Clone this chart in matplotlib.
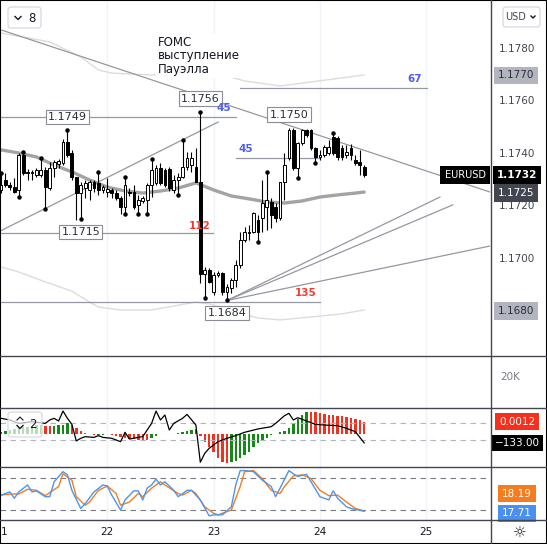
import matplotlib
matplotlib.use('Agg')
import matplotlib.pyplot as plt
from matplotlib.lines import Line2D
from matplotlib.patches import Rectangle, FancyBboxPatch
from matplotlib import transforms

W, H = 547, 544

# EURUSD hourly candles, hour index from 21 Sep 00:00
opens = [1.17262, 1.17300, 1.17281, 1.17273, 1.17262, 1.17395, 1.17331, 1.17327, 1.17319, 1.17319,
         1.17338, 1.17269, 1.17346, 1.17361, 1.17365, 1.17445, 1.17403, 1.17311, 1.17250, 1.17269,
         1.17262, 1.17292, 1.17289, 1.17262, 1.17254, 1.17262, 1.17250, 1.17231, 1.17197, 1.17254,
         1.17254, 1.17205, 1.17220, 1.17224, 1.17281, 1.17289, 1.17346, 1.17338, 1.17342, 1.17262,
         1.17300, 1.17311, 1.17350, 1.17357, 1.17350, 1.17292, 1.16941, 1.16956, 1.16873, 1.16937,
         1.16945, 1.16873, 1.16888, 1.16918, 1.16976, 1.17071, 1.17098, 1.17102, 1.17147, 1.17155,
         1.17197, 1.17216, 1.17197, 1.17155, 1.17292, 1.17384, 1.17491, 1.17346, 1.17441, 1.17491,
         1.17491, 1.17422, 1.17388, 1.17395, 1.17403, 1.17464, 1.17460, 1.17422, 1.17395, 1.17422,
         1.17376, 1.17369, 1.17350]
highs = [1.17327, 1.17327, 1.17292, 1.17308, 1.17403, 1.17407, 1.17342, 1.17338, 1.17346, 1.17384,
         1.17350, 1.17369, 1.17376, 1.17380, 1.17457, 1.17491, 1.17415, 1.17311, 1.17292, 1.17300,
         1.17300, 1.17300, 1.17331, 1.17281, 1.17308, 1.17269, 1.17262, 1.17239, 1.17311, 1.17269,
         1.17281, 1.17243, 1.17239, 1.17289, 1.17380, 1.17357, 1.17365, 1.17346, 1.17350, 1.17319,
         1.17327, 1.17453, 1.17407, 1.17407, 1.17422, 1.17560, 1.16968, 1.16964, 1.16949, 1.16953,
         1.16949, 1.16903, 1.16926, 1.16995, 1.17102, 1.17121, 1.17128, 1.17178, 1.17166, 1.17300,
         1.17331, 1.17231, 1.17212, 1.17292, 1.17403, 1.17499, 1.17499, 1.17445, 1.17495, 1.17495,
         1.17495, 1.17426, 1.17415, 1.17434, 1.17453, 1.17479, 1.17468, 1.17434, 1.17434, 1.17437,
         1.17395, 1.17415, 1.17357]
lows = [1.17250, 1.17273, 1.17262, 1.17250, 1.17235, 1.17319, 1.17300, 1.17300, 1.17311, 1.17311,
        1.17189, 1.17262, 1.17311, 1.17346, 1.17357, 1.17388, 1.17300, 1.17147, 1.17151, 1.17231,
        1.17224, 1.17254, 1.17243, 1.17250, 1.17235, 1.17231, 1.17224, 1.17170, 1.17170, 1.17239,
        1.17189, 1.17170, 1.17212, 1.17170, 1.17235, 1.17281, 1.17281, 1.17273, 1.17258, 1.17250,
        1.17243, 1.17308, 1.17338, 1.17331, 1.17292, 1.16907, 1.16850, 1.16907, 1.16861, 1.16930,
        1.16861, 1.16842, 1.16869, 1.16892, 1.16964, 1.17063, 1.17071, 1.17098, 1.17063, 1.17102,
        1.17109, 1.17117, 1.17140, 1.17147, 1.17224, 1.17376, 1.17338, 1.17308, 1.17434, 1.17464,
        1.17415, 1.17365, 1.17376, 1.17388, 1.17395, 1.17395, 1.17376, 1.17376, 1.17384, 1.17376,
        1.17357, 1.17319, 1.17311]
closes = [1.17281, 1.17281, 1.17273, 1.17254, 1.17395, 1.17327, 1.17327, 1.17331, 1.17338, 1.17338,
          1.17273, 1.17346, 1.17369, 1.17373, 1.17445, 1.17395, 1.17311, 1.17250, 1.17281, 1.17289,
          1.17292, 1.17269, 1.17262, 1.17273, 1.17266, 1.17250, 1.17231, 1.17197, 1.17281, 1.17250,
          1.17197, 1.17224, 1.17231, 1.17281, 1.17338, 1.17346, 1.17289, 1.17281, 1.17269, 1.17300,
          1.17311, 1.17350, 1.17384, 1.17384, 1.17292, 1.16941, 1.16956, 1.16911, 1.16937, 1.16945,
          1.16873, 1.16892, 1.16918, 1.16976, 1.17071, 1.17102, 1.17102, 1.17174, 1.17102, 1.17212,
          1.17224, 1.17166, 1.17155, 1.17292, 1.17357, 1.17491, 1.17346, 1.17441, 1.17491, 1.17472,
          1.17422, 1.17388, 1.17395, 1.17426, 1.17426, 1.17403, 1.17388, 1.17388, 1.17407, 1.17395,
          1.17365, 1.17357, 1.17319]
hours = list(range(len(opens)))

# fractal dots
dot_highs = [0, 5, 9, 15, 22, 28, 34, 41, 45, 60, 75]
dot_lows = [4, 10, 18, 28, 31, 33, 40, 46, 51, 58, 67, 71]

# moving average (thick grey)
ma_h = [0, 4, 8, 12, 16, 20, 24, 28, 32, 36, 40, 44, 48, 52, 56, 60, 64, 68, 72, 76, 80, 82]
ma = [1.17415, 1.17403, 1.17388, 1.17357, 1.17331, 1.17300, 1.17273, 1.17258, 1.17250, 1.17258,
      1.17269, 1.17289, 1.17262, 1.17239, 1.17228, 1.17216, 1.17212, 1.17220, 1.17235, 1.17243,
      1.17250, 1.17254]

# envelope bands (thin light grey)
ub_h = [0, 11, 18, 22, 25, 34, 42, 50, 55, 63, 70, 82]
ub = [1.17861, 1.17827, 1.17770, 1.17720, 1.17708, 1.17701, 1.17705, 1.17701, 1.17678, 1.17659,
      1.17674, 1.17701]
lb_h = [0, 4, 10, 16, 20, 22, 27, 34, 39, 44, 47, 51, 54, 58, 63, 70, 77, 82]
lb = [1.16968, 1.16949, 1.16911, 1.16876, 1.16834, 1.16815, 1.16804, 1.16804, 1.16819, 1.16834,
      1.16827, 1.16808, 1.16792, 1.16773, 1.16766, 1.16777, 1.16789, 1.16804]

# drawings
down_trend = [(0.0, 1.17873), (110.4, 1.17254)]
up_trend = [(-0.2, 1.17105), (49.0, 1.17521)]
hlines = [(1.17541, -0.2, 53.0), (1.17098, -0.2, 47.9), (1.16834, -0.2, 72.0),
          (1.17384, 53.0, 72.0), (1.17651, 54.0, 96.2)]
ray_origin = (51.0, 1.16840)
ray_ends = [(99.1, 1.17235), (102.0, 1.17205), (110.4, 1.17048)]
price_tags = [(15, 'high', '1.1749'), (45, 'high', '1.1756'), (65, 'high', '1.1750'),
              (18, 'low', '1.1715'), (51, 'low', '1.1684')]
blue_nums = [('45', 50.3, 1.17575), ('45', 55.3, 1.17418), ('67', 93.5, 1.17684)]
red_nums = [('112', 44.9, 1.17126), ('135', 68.7, 1.16869)]

# awesome oscillator, 1e-5 units
ao = [25, 35, 44, 54, 60, 66, 73, 79, 85, 92, 82, 76, 79, 85, 92, 104, 88, 57, 32, 16,
      3, -9, -6, -3, 1, -9, -19, -28, -32, -41, -47, -54, -56, -57, -38, -13, 3, 6, 4, 7,
      13, 22, 32, 41, 47, -16, -70, -117, -164, -228, -265, -275, -265, -253, -221, -196, -164, -117, -85, -54,
      -32, -9, 6, 19, 32, 57, 95, 142, 183, 215, 213, 209, 199, 193, 185, 183, 177, 175, 167, 152,
      142, 136, 120]
# CCI
cci_h = [0, 2, 4, 7, 10, 11, 12, 13, 14, 15, 16, 17, 18, 19, 21, 22, 23, 25, 27, 28, 29, 31, 32, 34, 35,
         36, 37, 38, 39, 41, 42, 44, 45, 46, 47, 49, 51, 53, 55, 58, 61, 62, 64, 65, 66, 67, 69, 71, 73, 76,
         78, 80, 82]
cci = [148, 129, 90, 110, 90, 129, 148, 117, 231, 148, 79, -111, -81, -62, -70, -50, -70, -81, -119, -12,
       -89, -70, -62, 90, 231, 129, 186, 14, 90, 148, 193, 71, -355, -252, -195, -119, -81, -50, -12, 26,
       52, 90, 178, 205, 129, 155, 117, 79, 71, 64, 33, -5, -133]
# stochastic
k_h = [0, 2, 3, 4, 6, 7, 8, 10, 11, 12, 14, 15, 16, 18, 19, 21, 23, 24, 25, 27, 28, 30, 31, 32, 33, 34, 35,
       36, 37, 39, 40, 42, 43, 45, 47, 48, 50, 52, 53, 54, 55, 57, 59, 61, 62, 63, 65, 66, 67, 69, 70, 72,
       74, 75, 76, 78, 79, 82]
k_val = [48, 54, 42, 54, 67, 54, 56, 45, 45, 73, 92, 86, 57, 23, 32, 54, 67, 65, 48, 20, 39, 56, 56, 39,
         61, 67, 78, 67, 73, 57, 45, 57, 57, 39, 9, 11, 11, 26, 67, 94, 94, 92, 76, 64, 45, 61, 94, 88,
         83, 87, 73, 45, 39, 56, 42, 26, 23, 17.71]
d_h = [0, 2, 4, 6, 8, 10, 13, 14, 16, 17, 19, 20, 22, 24, 26, 27, 29, 31, 32, 34, 36, 37, 40, 41, 43, 44,
       46, 48, 49, 52, 54, 55, 57, 59, 61, 63, 64, 66, 68, 70, 72, 74, 76, 78, 80, 82]
d_val = [48, 50, 50, 59, 57, 47, 64, 88, 76, 45, 29, 35, 57, 65, 51, 29, 35, 51, 45, 61, 73, 67, 51, 48,
         57, 51, 26, 14, 11, 20, 64, 92, 94, 79, 57, 51, 64, 84, 86, 79, 57, 47, 48, 35, 23, 18.19]

# the "21" label is cut at the left edge in the original, only its "1" shows
day_ticks = [0.75, 24, 48, 72, 96]
day_labels = ['1', '22', '23', '24', '25']
price_ticks = [1.1780, 1.1760, 1.1740, 1.1720, 1.1700]

TXT = '#131722'
GREY_LINE = '#9598a1'


def fx(px):
    return px / W


def fy(py):
    return 1 - py / H


fig = plt.figure(figsize=(W / 100, H / 100), dpi=100)
fig.patch.set_facecolor('white')
xlim = (-0.226, 110.4)

ax = fig.add_axes([0, fy(355), fx(490), 355 / H])
ax_vol = fig.add_axes([0, fy(408), fx(490), 52 / H])
ax_ao = fig.add_axes([0, fy(467), fx(490), 59 / H])
ax_cci = fig.add_axes([0, fy(467), fx(490), 59 / H])
ax_st = fig.add_axes([0, fy(520), fx(490), 53 / H])
for a in [ax, ax_vol, ax_ao, ax_cci, ax_st]:
    a.set_xlim(*xlim)
    a.set_xticks([])
    a.set_yticks([])
    for s in a.spines.values():
        s.set_visible(False)
ax_cci.patch.set_alpha(0)
for a in [ax, ax_vol, ax_ao, ax_st]:
    for d in day_ticks[1:]:
        a.axvline(d, color='#f0f3fa', lw=1, zorder=0)

# ---- main pane
ax.set_ylim(1.16632, 1.17987)
ax.plot(ub_h, ub, color='#dcdcdc', lw=1, zorder=1)
ax.plot(lb_h, lb, color='#dcdcdc', lw=1, zorder=1)
ax.plot(ma_h, ma, color='#a3a3a3', lw=2.4, zorder=2, solid_capstyle='round')

ax.axline(down_trend[0], down_trend[1], color=GREY_LINE, lw=0.9, zorder=2)
ax.plot([p[0] for p in up_trend], [p[1] for p in up_trend], color=GREY_LINE, lw=0.9, zorder=2)
for y, x0, x1 in hlines:
    ax.plot([x0, x1], [y, y], color=GREY_LINE, lw=0.9, zorder=2)
for ex, ey in ray_ends:
    ax.plot([ray_origin[0], ex], [ray_origin[1], ey], color=GREY_LINE, lw=0.9, zorder=2)

bodies_lo = [min(o, c) for o, c in zip(opens, closes)]
bodies_h = [max(abs(c - o), 0.00002) for o, c in zip(opens, closes)]
faces = ['white' if c >= o else 'black' for o, c in zip(opens, closes)]
ax.vlines(hours, lows, highs, color='black', lw=0.8, zorder=3)
ax.bar(hours, bodies_h, bottom=bodies_lo, width=0.62, color=faces, edgecolor='black', lw=0.7, zorder=4)
ax.plot(dot_highs, [highs[i] for i in dot_highs], 'o', ms=2.2, color='black', zorder=5)
ax.plot(dot_lows, [lows[i] for i in dot_lows], 'o', ms=2.2, color='black', zorder=5)

for i, kind, label in price_tags:
    yv = highs[i] if kind == 'high' else lows[i]
    off = 9.5 if kind == 'high' else -9.5
    ax.annotate(label, xy=(i, yv), xytext=(0, off), textcoords='offset points', ha='center', va='center',
                fontsize=8, color='#2a2e39', zorder=7,
                bbox=dict(boxstyle='square,pad=0.2', fc='white', ec='#8a8d96', lw=0.8))
for t, xh, yv in blue_nums:
    ax.text(xh, yv, t, color='#4d5ef0', fontsize=7.5, fontweight='bold', ha='center', va='center', zorder=7)
for t, xh, yv in red_nums:
    ax.text(xh, yv, t, color='#f23c2e', fontsize=7.5, fontweight='bold', ha='center', va='center', zorder=7)

ax.text(35.4, 1.17850, 'FOMC\nвыступление\nПауэлла', fontsize=8.5, color=TXT, ha='left', va='top',
        linespacing=1.05, zorder=6, bbox=dict(boxstyle='square,pad=0.15', fc='white', ec='none'))

# right price scale
rt = transforms.blended_transform_factory(fig.transFigure, ax.transData)
for p in price_ticks:
    ax.text(fx(517), p, f'{p:.4f}', transform=rt, ha='center', va='center', fontsize=7.5, color='#434651')
for p in [1.1770, 1.1680]:
    ax.text(fx(516), p, f'{p:.4f}', transform=rt, ha='center', va='center', fontsize=7.5, color='#2a2e39',
            bbox=dict(boxstyle='square,pad=0.35', fc='#b2b5be', ec='none'))
ax.text(fx(516), 1.1725, '1.1725', transform=rt, ha='center', va='center', fontsize=7.5, color='white',
        bbox=dict(boxstyle='square,pad=0.35', fc='#434651', ec='none'))
ax.text(fx(517), closes[-1], '1.1732', transform=rt, ha='center', va='center', fontsize=7.5, color='white',
        fontweight='bold', bbox=dict(boxstyle='square,pad=0.4', fc='black', ec='none'))
ax.text(fx(465), closes[-1], 'EURUSD', transform=rt, ha='center', va='center', fontsize=7, color='white',
        bbox=dict(boxstyle='square,pad=0.45', fc='black', ec='none'), zorder=8)

# ---- volume pane
fig.text(fx(510), fy(377), '20K', fontsize=7.5, color='#787b86', ha='center', va='center')

# ---- awesome oscillator + CCI pane
ax_ao.set_ylim(-310, 249)
ao_cols = ['#138a13'] + ['#138a13' if ao[i] >= ao[i - 1] else '#f7301e' for i in range(1, len(ao))]
ax_ao.bar(hours, ao, width=0.55, color=ao_cols, zorder=2)
ax_cci.set_ylim(-409, 266)
for lvl in [100, -100]:
    ax_cci.axhline(lvl, color='#b2b5be', lw=0.8, ls=(0, (5, 4)), zorder=1)
ax_cci.plot(cci_h, cci, color='black', lw=0.9, zorder=3)
ct = transforms.blended_transform_factory(fig.transFigure, ax_cci.transData)
ax_cci.text(fx(517), cci[-1], '\u2212133.00', transform=ct, ha='center', va='center', fontsize=7.5,
            color='white', bbox=dict(boxstyle='square,pad=0.3', fc='black', ec='none'))
at = transforms.blended_transform_factory(fig.transFigure, ax_ao.transData)
ax_ao.text(fx(517), ao[-1], '0.0012', transform=at, ha='center', va='center', fontsize=7.5,
           color='white', bbox=dict(boxstyle='square,pad=0.35', fc='#f7301e', ec='none'))

# ---- stochastic pane
ax_st.set_ylim(1.3, 100.75)
for lvl in [80, 20]:
    ax_st.axhline(lvl, color='#787b86', lw=0.8, ls=(0, (5, 4)), zorder=1)
ax_st.plot(d_h, d_val, color='#f57c1f', lw=1.0, zorder=2)
ax_st.plot(k_h, k_val, color='#4a96f0', lw=1.0, zorder=3)
stt = transforms.blended_transform_factory(fig.transFigure, ax_st.transData)
ax_st.text(fx(517), 51, '18.19', transform=stt, ha='center', va='center', fontsize=7.5, color='white',
           bbox=dict(boxstyle='square,pad=0.35', fc='#f57c1f', ec='none'))
ax_st.text(fx(517), 14, '17.71', transform=stt, ha='center', va='center', fontsize=7.5, color='white',
           bbox=dict(boxstyle='square,pad=0.35', fc='#4a90f0', ec='none'))

# time scale
tt = transforms.blended_transform_factory(ax_st.transData, fig.transFigure)
for d, lab in zip(day_ticks, day_labels):
    ax_st.text(d, fy(532), lab, transform=tt, ha='center', va='center', fontsize=7.5, color=TXT,
               clip_on=False)
fig.text(fx(520), fy(533), '\u263c', fontsize=11, color=TXT, ha='center', va='center')

# pane separators and frame
for yy in [356, 408, 467, 520]:
    fig.add_artist(Line2D([0, 1], [fy(yy), fy(yy)], color='#434651', lw=1))
fig.add_artist(Line2D([fx(490.5), fx(490.5)], [0, 1], color='#434651', lw=1))
fig.add_artist(Rectangle((0, 0), 1, 1, fill=False, ec='black', lw=1.5, transform=fig.transFigure))


def chevron(cx, cy, s=3.0):
    fig.add_artist(Line2D([fx(cx - s), fx(cx), fx(cx + s)], [fy(cy - s / 2), fy(cy + s / 2), fy(cy - s / 2)],
                          color=TXT, lw=1.0))


fig.add_artist(FancyBboxPatch((fx(8), fy(28)), 33 / W, 21 / H, boxstyle='round,pad=0,rounding_size=0.006',
                              fc='white', ec='#d1d4dc', lw=0.8, transform=fig.transFigure))
chevron(18, 18)
fig.text(fx(32), fy(18), '8', fontsize=8.5, color=TXT, ha='center', va='center')

fig.add_artist(FancyBboxPatch((fx(503), fy(27)), 37 / W, 20 / H, boxstyle='round,pad=0,rounding_size=0.006',
                              fc='white', ec='#d1d4dc', lw=0.8, transform=fig.transFigure))
fig.text(fx(516), fy(17), 'USD', fontsize=7, color='#434651', ha='center', va='center')
chevron(533, 17, 2.0)

fig.add_artist(FancyBboxPatch((fx(8), fy(437)), 34 / W, 25 / H, boxstyle='round,pad=0,rounding_size=0.006',
                              fc=(1, 1, 1, 0.7), ec='#d1d4dc', lw=0.8, transform=fig.transFigure))
chevron(20, 427)
fig.add_artist(Line2D([fx(17), fx(20), fx(23)], [fy(420), fy(417), fy(420)], color=TXT, lw=0.8))
fig.text(fx(33), fy(425), '2', fontsize=8.5, color=TXT, ha='center', va='center')

fig.savefig('out.png', dpi=100)
